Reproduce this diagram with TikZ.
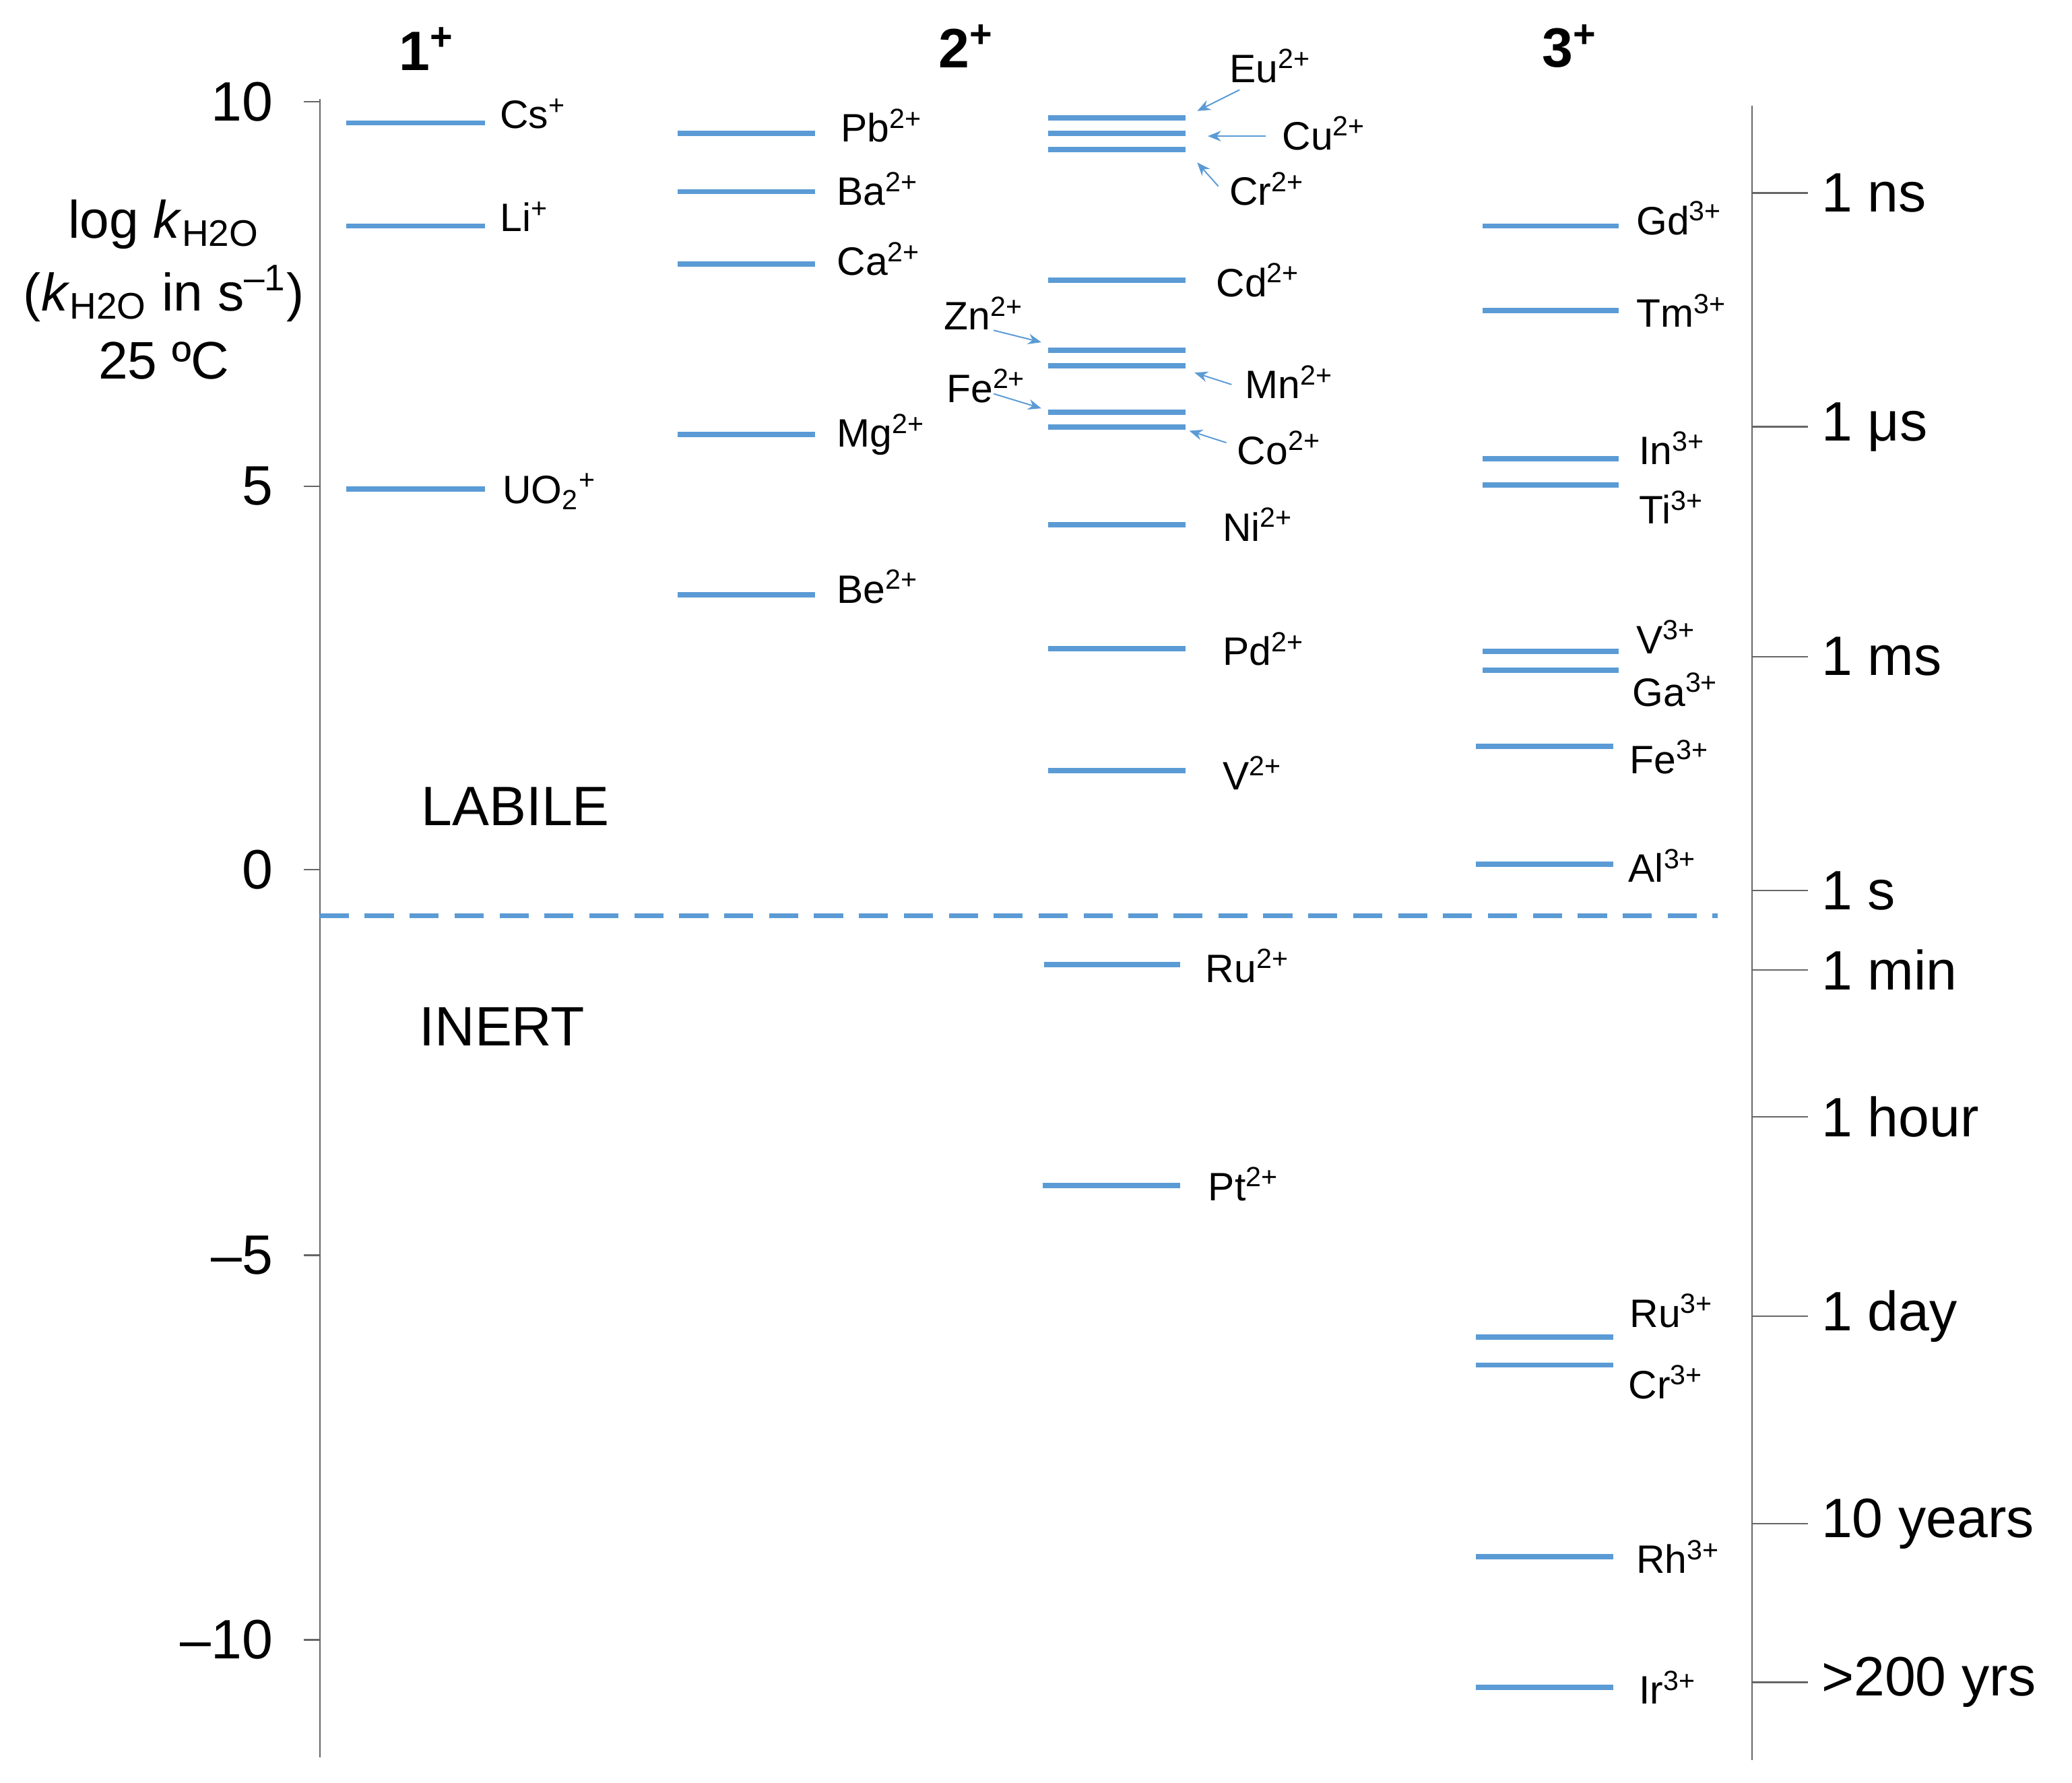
\documentclass[tikz,border=0pt]{standalone}
\usepackage{fontspec}
\setmainfont{Liberation Sans}
\usetikzlibrary{arrows.meta}
\definecolor{bl}{RGB}{91,155,213}
\begin{document}
\begin{tikzpicture}[x=0.5pt,y=-0.5pt,
  bar/.style={draw=bl,line width=2pt},
  ax/.style={draw=gray!80!black,line width=0.6pt},
  lab/.style={anchor=west,inner sep=0pt,font=\fontsize{15}{15}\selectfont},
  num/.style={anchor=east,inner sep=0pt,font=\fontsize{21}{21}\selectfont},
  tim/.style={anchor=west,inner sep=0pt,font=\fontsize{21}{21}\selectfont},
  hd/.style={inner sep=0pt,font=\fontsize{21}{21}\selectfont\bfseries},
  ar/.style={draw=bl,line width=0.5pt,-{Stealth[length=5pt,width=4pt]}}]
\useasboundingbox (0,0) rectangle (1568,1349);
% left axis
\draw[ax] (242,75) -- (242,1330);
\foreach \y/\t in {77/10,368/5,658/0,950/{\textendash5},1241/{\textendash10}}{
  \draw[ax] (230,\y) -- (242,\y);
  \node[num] at (207,\y) {\t};}
% right axis
\draw[ax] (1326,80) -- (1326,1332);
\foreach \y/\t in {146/1 ns,323/1 μs,497/1 ms,674/1 s,734/1 min,845/1 hour,996/1 day,1153/10 years,1273/>200 yrs}{
  \draw[ax] (1326,\y) -- (1368,\y);
  \node[tim] at (1378,\y) {\t};}
% headers
\node[hd] (h1) at (323,37) {1\textsuperscript{+}};
\node[hd] (h2) at (731,35) {2\textsuperscript{+}};
\node[hd] (h3) at (1188,35) {3\textsuperscript{+}};
% title
\node[inner sep=0pt,font=\fontsize{20}{20}\selectfont] (t1) at (124,170) {log \textit{k}\textsubscript{H2O}};
\node[inner sep=0pt,font=\fontsize{20}{20}\selectfont] (t2) at (124,222) {(\textit{k}\textsubscript{H2O} in s\textsuperscript{\textendash1})};
\node[inner sep=0pt,font=\fontsize{20}{20}\selectfont] (t3) at (124,273) {25 ºC};
\node[inner sep=0pt,font=\fontsize{21}{21}\selectfont] (lab) at (390,610) {LABILE};
\node[inner sep=0pt,font=\fontsize{21}{21}\selectfont] (ine) at (380,777) {INERT};
\draw[draw=bl,line width=2pt,dash pattern=on 11pt off 6pt] (242,693) -- (1300,693);
% column 1
\foreach \y in {93,171,370} \draw[bar] (262,\y) -- (367,\y);
\node[lab] (cs) at (378,86) {Cs\textsuperscript{+}};
\node[lab] (li) at (378,164) {Li\textsuperscript{+}};
\node[lab] (uo) at (380,372) {UO\textsubscript{2}\textsuperscript{+}};
% column 2a
\foreach \y in {101,145,200,329,450} \draw[bar] (513,\y) -- (617,\y);
\node[lab] (pb) at (636,95) {Pb\textsuperscript{2+}};
\node[lab] (ba) at (633,143) {Ba\textsuperscript{2+}};
\node[lab] (ca) at (633,196) {Ca\textsuperscript{2+}};
\node[lab] (mg) at (633,329) {Mg\textsuperscript{2+}};
\node[lab] (be) at (633,444) {Be\textsuperscript{2+}};
% column 2b
\foreach \y in {89,101,113,212,265,277,312,323,397,491,583} \draw[bar] (793,\y) -- (897,\y);
\draw[bar] (790,730) -- (893,730);
\draw[bar] (789,897) -- (893,897);
\node[lab] (eu) at (930,50) {Eu\textsuperscript{2+}};
\node[lab] (cu) at (970,101) {Cu\textsuperscript{2+}};
\node[lab] (cr) at (930,143) {Cr\textsuperscript{2+}};
\node[lab] (cd) at (920,212) {Cd\textsuperscript{2+}};
\node[lab] (zn) at (714,237) {Zn\textsuperscript{2+}};
\node[lab] (mn) at (942,289) {Mn\textsuperscript{2+}};
\node[lab] (fe) at (716,292) {Fe\textsuperscript{2+}};
\node[lab] (co) at (936,339) {Co\textsuperscript{2+}};
\node[lab] (ni) at (925,397) {Ni\textsuperscript{2+}};
\node[lab] (pd) at (925,491) {Pd\textsuperscript{2+}};
\node[lab] (v2) at (925,585) {V\textsuperscript{2+}};
\node[lab] (ru2) at (912,731) {Ru\textsuperscript{2+}};
\node[lab] (pt) at (914,896) {Pt\textsuperscript{2+}};
\coordinate (aeu) at (906,84);
\coordinate (acu) at (914,103);
\coordinate (acr) at (906,123);
\coordinate (azn) at (788,259);
\coordinate (afe) at (788,309);
\coordinate (amn) at (904,282);
\coordinate (aco) at (900,326);
\draw[ar] (938,68) -- (aeu);
\draw[ar] (958,103) -- (acu);
\draw[ar] (922,141) -- (acr);
\draw[ar] (752,250) -- (azn);
\draw[ar] (752,298) -- (afe);
\draw[ar] (932,291) -- (amn);
\draw[ar] (928,335) -- (aco);
% column 3
\foreach \y in {171,235,347,367,493,507} \draw[bar] (1122,\y) -- (1225,\y);
\foreach \y in {565,1012,1033,1178,1277} \draw[bar] (1117,\y) -- (1221,\y);
\draw[bar] (1117,654) -- (1221,654);
\node[lab] (gd) at (1238,165) {Gd\textsuperscript{3+}};
\node[lab] (tm) at (1238,235) {Tm\textsuperscript{3+}};
\node[lab] (in) at (1240,339) {In\textsuperscript{3+}};
\node[lab] (ti) at (1240,384) {Ti\textsuperscript{3+}};
\node[lab] (v3) at (1238,482) {V\textsuperscript{3+}};
\node[lab] (ga) at (1235,522) {Ga\textsuperscript{3+}};
\node[lab] (fe3) at (1233,573) {Fe\textsuperscript{3+}};
\node[lab] (al) at (1232,655) {Al\textsuperscript{3+}};
\node[lab] (ru3) at (1233,992) {Ru\textsuperscript{3+}};
\node[lab] (cr3) at (1232,1046) {Cr\textsuperscript{3+}};
\node[lab] (rh) at (1238,1178) {Rh\textsuperscript{3+}};
\node[lab] (ir) at (1240,1277) {Ir\textsuperscript{3+}};
\end{tikzpicture}
\end{document}
